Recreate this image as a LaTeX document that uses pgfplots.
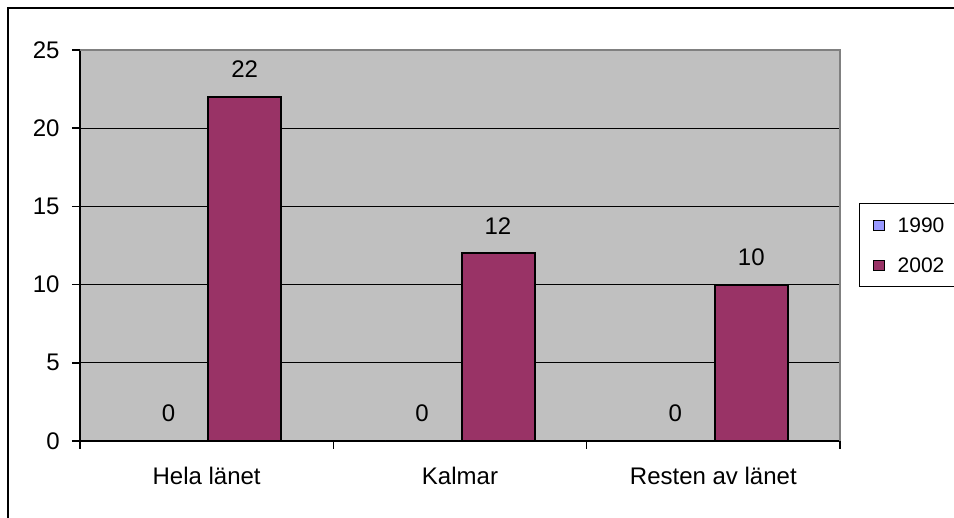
\documentclass[border=0pt]{standalone}
\usepackage{pgfplots}
\pgfplotsset{compat=1.18}
\usepackage{fontspec}
\setmainfont{Liberation Sans}
\definecolor{c1990}{HTML}{9999FF}
\definecolor{c2002}{HTML}{993366}
\definecolor{plotbg}{HTML}{C0C0C0}
\definecolor{plotframe}{HTML}{808080}
\begin{document}
\fontsize{12}{14.4}\selectfont
\begin{tikzpicture}
\useasboundingbox (0,0) rectangle (477pt,259pt);
\draw[line width=1pt] (4.15pt,-1pt) -- (4.15pt,254.85pt) -- (478pt,254.85pt);
\begin{axis}[
  at={(40pt,38.5pt)}, anchor=south west,
  scale only axis, width=380pt, height=195.5pt,
  /pgf/number format/assume math mode=true,
  ybar=1.5pt, bar width=36.5pt,
  xmin=-0.5, xmax=2.5, ymin=0, ymax=25,
  axis background/.style={fill=plotbg},
  axis x line*=bottom, axis y line*=left,
  axis line style={black, line width=0.75pt},
  ytick={0,5,10,15,20,25},
  ymajorgrids, major grid style={black, line width=0.6pt},
  tick align=outside, major tick length=4pt,
  tick style={black, line width=0.75pt},
  tick label style={font=\fontsize{12}{14.4}\selectfont},
  xtick={-0.5,0.5,1.5,2.5}, xticklabels={},
  extra x ticks={0,1,2},
  extra x tick labels={Hela länet,Kalmar,Resten av länet},
  extra x tick style={major tick length=0pt, grid=none,
     xticklabel style={anchor=center, yshift=-17.5pt}},
  yticklabel style={xshift=-2pt},
  nodes near coords,
  every node near coord/.append style={anchor=center, yshift=13.7pt, black,
     font=\fontsize{12}{14.4}\selectfont},
  legend style={at={(1,0.5)}, anchor=west, xshift=9.5pt, draw=black, line width=0.5pt,
     fill=white, inner xsep=6.8pt, inner ysep=7pt, row sep=12.5pt,
     nodes={inner sep=0pt, text height=7.5pt, text depth=0pt},
     font=\fontsize{10.5}{12}\selectfont, legend cell align=left},
  legend image code/.code={
     \path[draw=none, fill=none] (1.2pt,0pt) -- (12pt,0pt);
     \draw[#1,draw=black,line width=0.6pt] (0pt,-2.6pt) rectangle (5.2pt,2.6pt);},
  after end axis/.code={\draw[plotframe, line width=1pt] (rel axis cs:0,1) -- (rel axis cs:1,1) -- (rel axis cs:1,0);},
]
\addplot[fill=c1990, draw=black, line width=1pt] coordinates {(0,0) (1,0) (2,0)};
\addplot[fill=c2002, draw=black, line width=1pt] coordinates {(0,22) (1,12) (2,10)};
\legend{1990,2002}
\end{axis}
\end{tikzpicture}
\end{document}
